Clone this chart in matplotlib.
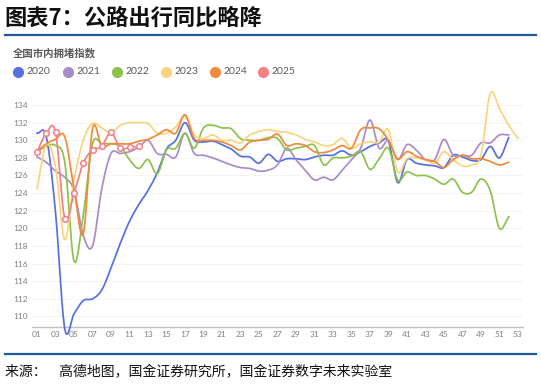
"""
Recreate the weekly urban congestion index chart (2020-2025).
"""
import numpy as np
import matplotlib
matplotlib.use("Agg")
import matplotlib.pyplot as plt
from matplotlib.lines import Line2D

plt.rcParams["font.family"] = ["Noto Sans CJK SC", "DejaVu Sans"]

YEARS = ["2020", "2021", "2022", "2023", "2024", "2025"]
COLORS = ["#5470e3", "#a98bcb", "#8bc34a", "#fad47c", "#f08a3a", "#f47f84"]

Y2020 = [130.8, 130.4, 121.8, 108.6, 110.3, 111.8, 112.0, 113.0, 115.5, 118.3,
         120.8, 122.7, 124.3, 126.3, 129.0, 130.0, 132.0, 130.0, 129.8, 129.9,
         129.5, 129.0, 128.2, 128.1, 127.4, 128.4, 127.6, 127.9, 127.9, 127.8,
         128.1, 128.3, 128.3, 128.8, 128.3, 128.7, 129.3, 129.7, 129.9, 125.2,
         127.8, 127.4, 127.2, 127.1, 126.9, 128.3, 128.1, 127.7, 127.8, 129.3,
         128.0, 130.3]
Y2021 = [128.1, 127.5, 126.5, 125.8, 124.3, 119.2, 118.0, 124.5, 128.5, 128.5,
         128.7, 129.2, 130.0, 128.5, 128.4, 128.1, 130.8, 128.5, 128.3, 128.0,
         127.6, 127.2, 126.9, 126.8, 126.5, 126.6, 127.2, 129.1, 127.8, 126.6,
         125.5, 125.8, 125.5, 126.6, 127.8, 129.1, 132.3, 129.1, 130.0, 127.8,
         129.5, 128.9, 127.8, 127.8, 130.1, 128.3, 128.3, 128.3, 129.7, 129.7,
         130.6, 130.6]
Y2022 = [128.7, 129.3, 129.4, 127.5, 116.3, 121.5, 129.6, 129.6, 129.6, 129.3,
         127.8, 126.8, 127.8, 126.2, 128.9, 129.1, 130.8, 129.1, 131.4, 131.7,
         131.4, 131.3, 130.2, 130.0, 130.0, 130.3, 130.2, 128.9, 129.1, 129.3,
         129.4, 127.2, 128.0, 128.0, 128.2, 128.7, 126.7, 127.9, 129.1, 125.5,
         126.4, 126.0, 126.0, 125.6, 125.0, 125.6, 124.1, 124.1, 125.6, 124.3,
         120.0, 121.3]
Y2023 = [124.5, 129.5, 127.0, 118.7, 125.5, 130.0, 131.9, 131.4, 130.8, 131.7,
         132.0, 132.0, 131.9, 130.8, 130.8, 131.5, 132.7, 130.6, 130.2, 130.6,
         130.0, 130.0, 129.7, 130.6, 131.0, 131.2, 131.0, 130.9, 130.6, 130.1,
         129.8, 129.4, 129.5, 130.2, 129.1, 129.6, 129.8, 129.8, 131.2, 126.4,
         127.9, 128.0, 127.8, 127.4, 128.7, 127.8, 127.1, 127.2, 128.3, 135.3,
         133.6, 131.7, 130.2]
Y2024 = [128.7, 129.6, 130.1, 130.4, 124.5, 119.4, 131.3, 129.3, 129.6, 129.6,
         129.6, 129.9, 130.1, 130.6, 131.2, 130.8, 132.9, 130.2, 130.0, 130.0,
         129.8, 129.4, 128.9, 129.8, 130.0, 130.1, 130.7, 129.4, 129.6, 129.4,
         128.7, 128.6, 128.9, 129.4, 129.1, 131.2, 131.4, 131.3, 130.0, 127.9,
         128.7, 128.2, 127.8, 127.6, 126.9, 127.8, 128.3, 127.9, 127.9, 127.6,
         127.2, 127.5]
Y2025 = [128.7, 130.8, 130.9, 121.1, 124.0, 127.4, 128.9, 129.3, 130.9, 129.1,
         129.2, 129.3]

SERIES = [Y2020, Y2021, Y2022, Y2023, Y2024, Y2025]
X_LABELS = ["%02d" % w for w in range(1, 54, 2)]
Y_TICKS = list(range(110, 135, 2))


def smooth(x, y, n=16):
    """Catmull-Rom curve through the weekly points (like Excel's smoothed line)."""
    x = np.asarray(x, float)
    y = np.asarray(y, float)
    px = np.concatenate([[2 * x[0] - x[1]], x, [2 * x[-1] - x[-2]]])
    py = np.concatenate([[2 * y[0] - y[1]], y, [2 * y[-1] - y[-2]]])
    t = np.linspace(0, 1, n, endpoint=False)[:, None]
    out_x, out_y = [], []
    for i in range(1, len(px) - 2):
        for p, out in ((px, out_x), (py, out_y)):
            p0, p1, p2, p3 = p[i - 1], p[i], p[i + 1], p[i + 2]
            seg = 0.5 * (2 * p1 + (-p0 + p2) * t
                         + (2 * p0 - 5 * p1 + 4 * p2 - p3) * t ** 2
                         + (-p0 + 3 * p1 - 3 * p2 + p3) * t ** 3)
            out.extend(seg.ravel())
    out_x.append(x[-1])
    out_y.append(y[-1])
    return np.array(out_x), np.array(out_y)


fig = plt.figure(figsize=(5.41, 3.85), dpi=100)
ax = fig.add_axes([0.0599, 0.1506, 0.906, 0.6224])

for year, vals, color in zip(YEARS, SERIES, COLORS):
    weeks = np.arange(1, len(vals) + 1)
    sx, sy = smooth(weeks, vals)
    ax.plot(sx, sy, color=color, lw=1.25, clip_on=False, zorder=3)
    if year == "2025":
        ax.plot(weeks, vals, ls="none", marker="o", ms=4, mfc="white",
                mec=color, mew=1.1, zorder=4)

ax.set_xlim(0.5, 53.5)
ax.set_ylim(108.8, 136)
ax.set_xticks(range(1, 54, 2))
ax.set_xticklabels(X_LABELS, fontsize=6, color="#7f7f7f", family="Lato")
ax.set_yticks(Y_TICKS)
ax.set_yticklabels([str(v) for v in Y_TICKS], fontsize=6, color="#7f7f7f",
                   family="Lato")
ax.tick_params(length=0, pad=3)
ax.grid(axis="y", color="#f2f2f2", lw=0.6)
for side in ("top", "right", "left"):
    ax.spines[side].set_visible(False)
ax.spines["bottom"].set_color("#c0c0c0")
ax.spines["bottom"].set_linewidth(1.0)

# header / footer
fig.text(0.009, 0.952, "图表7：公路出行同比略降", fontsize=16, fontweight="bold",
         va="center", ha="left", color="#111111")
fig.add_artist(Line2D([0.009, 0.99], [0.908, 0.908], color="#1f5a96", lw=1.6))
fig.add_artist(Line2D([0.009, 0.99], [0.081, 0.081], color="#1f5a96", lw=1.6))
fig.text(0.009, 0.033, "来源：    高德地图，国金证券研究所，国金证券数字未来实验室",
         fontsize=10, va="center", ha="left", color="#111111")

fig.text(0.024, 0.862, "全国市内拥堵指数", fontsize=7.5, fontweight="bold",
         va="center", ha="left", color="#595959")

# legend row
leg_x = [18, 68, 117, 166, 215, 263]
for px_, year, color in zip(leg_x, YEARS, COLORS):
    fig.add_artist(Line2D([px_ / 541], [1 - 72 / 385], marker="o", ms=7,
                          color=color, ls="none"))
    fig.text((px_ + 8) / 541, 1 - 72 / 385, year, fontsize=7.5, va="center",
             ha="left", color="#595959", family="Lato")

fig.savefig("out.png", dpi=100)
